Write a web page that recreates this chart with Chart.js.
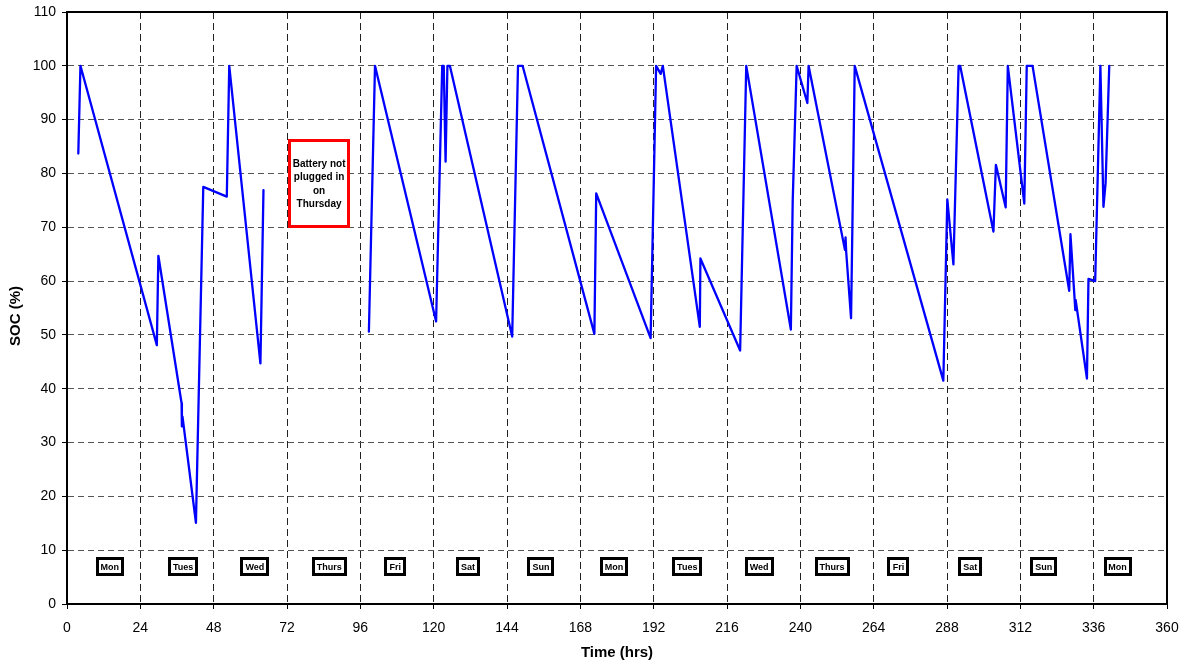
<!DOCTYPE html>
<html>
<head>
<meta charset="utf-8">
<script src="https://cdn.jsdelivr.net/npm/chart.js@4"></script>
<style>
  html, body { margin: 0; padding: 0; background: #fff; }
  #wrap { width: 1187px; height: 664px; }
</style>
</head>
<body>
<div id="wrap"><canvas id="c" width="1187" height="664"></canvas></div>
<script>
// ---- data ----
const hours = [
  3.7, 4.4, 29.4, 29.9, 37.5, 37.6, 37.8, 42.2, 44.6, 52.3, 53.1, 63.3, 64.3,
  80,
  98.8, 100.8, 120.8, 122.8, 123.3, 123.9, 124.5, 125.3, 145.7, 147.6, 149.1,
  172.6, 173.2, 191.0, 192.8, 194.3, 195.0, 207.1, 207.3, 220.3, 222.3, 236.9,
  237.5, 238.8, 242.3, 242.7, 254.6, 254.8, 255.0, 256.6, 257.8, 286.8, 288.1,
  290.1, 291.8, 292.3, 303.2, 304.0, 307.2, 307.9, 313.3, 314.1, 316.0, 328.0,
  328.4, 330.0, 330.1, 333.8, 334.3, 336.5, 338.2, 339.2, 339.9, 340.4, 341.1
];
const soc = [
  83.7, 100, 48.1, 64.7, 37.3, 33.0, 34.8, 15.1, 77.5, 75.7, 100, 44.7, 76.9,
  null,
  50.6, 100, 52.5, 100, 100, 82.2, 100, 100, 49.7, 100, 100,
  50.2, 76.3, 49.4, 100, 98.5, 100, 51.5, 64.2, 47.1, 100, 51.0,
  74.8, 100, 93.1, 100, 65.8, 68.1, 65.5, 53.1, 100, 41.5, 75.2,
  63.1, 100, 100, 69.2, 81.6, 73.7, 100, 74.4, 100, 100, 58.2,
  68.7, 54.6, 56.5, 41.9, 60.4, 60.0, 100, 73.8, 78.2, 87.1, 100
];
const dayNames = ['Mon','Tues','Wed','Thurs','Fri','Sat','Sun','Mon','Tues','Wed','Thurs','Fri','Sat','Sun','Mon'];
const dayHours = [14, 38, 61.5, 85.8, 107.4, 131.2, 155.1, 179, 203, 226.5, 250.4, 272.1, 295.6, 319.7, 343.8];
const dayLabelSoc = 6.9;
const xTicks = [0, 24, 48, 72, 96, 120, 144, 168, 192, 216, 240, 264, 288, 312, 336, 360];
const yTicks = [0, 10, 20, 30, 40, 50, 60, 70, 80, 90, 100, 110];
const noteLines = ['Battery not', 'plugged in', 'on', 'Thursday'];
const noteAt = { x: 82.5, y: 78.1 };

const FONT = '"Liberation Sans", Arial, Helvetica, sans-serif';

const points = hours.map((h, i) => ({ x: h, y: soc[i] }));

const decor = {
  id: 'decor',
  afterDraw(chart) {
    const ctx = chart.ctx;
    const xs = chart.scales.x, ys = chart.scales.y;
    const a = chart.chartArea;
    ctx.save();
    // frame
    ctx.strokeStyle = '#000';
    ctx.lineWidth = 2;
    ctx.setLineDash([]);
    ctx.strokeRect(a.left, a.top, a.right - a.left, a.bottom - a.top);

    // day labels
    ctx.font = 'bold 9px ' + FONT;
    ctx.textAlign = 'center';
    ctx.textBaseline = 'middle';
    const cy = ys.getPixelForValue(dayLabelSoc);
    dayNames.forEach((d, i) => {
      const cx = xs.getPixelForValue(dayHours[i]);
      const w = Math.round(ctx.measureText(d).width) + 10;
      const h = 19;
      const x0 = Math.round(cx - w / 2), y0 = Math.round(cy - h / 2);
      ctx.fillStyle = '#fff';
      ctx.fillRect(x0, y0, w, h);
      ctx.lineWidth = 3;
      ctx.strokeStyle = '#000';
      ctx.strokeRect(x0 + 1.5, y0 + 1.5, w - 3, h - 3);
      ctx.fillStyle = '#000';
      ctx.fillText(d, cx, cy + 0.5);
    });

    // note box
    const nx = xs.getPixelForValue(noteAt.x), ny = ys.getPixelForValue(noteAt.y);
    const bw = 62, bh = 89;
    const bx = Math.round(nx - bw / 2), by = Math.round(ny - bh / 2);
    ctx.fillStyle = '#fff';
    ctx.fillRect(bx, by, bw, bh);
    ctx.strokeStyle = '#ff0000';
    ctx.lineWidth = 3;
    ctx.strokeRect(bx + 1.5, by + 1.5, bw - 3, bh - 3);
    ctx.fillStyle = '#000';
    ctx.font = 'bold 10px ' + FONT;
    const lh = 13.3;
    noteLines.forEach((t, i) => {
      ctx.fillText(t, nx, ny + (i - (noteLines.length - 1) / 2) * lh + 0.5);
    });

    // axis titles
    ctx.font = 'bold 15px ' + FONT;
    ctx.fillStyle = '#000';
    ctx.textAlign = 'center';
    ctx.textBaseline = 'middle';
    ctx.fillText('Time (hrs)', (a.left + a.right) / 2, 653);
    ctx.save();
    ctx.translate(16, 316);
    ctx.rotate(-Math.PI / 2);
    ctx.fillText('SOC (%)', 0, 0);
    ctx.restore();
    ctx.restore();
  }
};

new Chart(document.getElementById('c'), {
  type: 'line',
  data: {
    datasets: [{
      data: points,
      borderColor: '#0000ff',
      borderWidth: 2.3,
      borderJoinStyle: 'round',
      borderCapStyle: 'round',
      pointRadius: 0,
      tension: 0,
      spanGaps: false,
      fill: false
    }]
  },
  options: {
    responsive: false,
    animation: false,
    devicePixelRatio: 1,
    layout: { autoPadding: false, padding: { left: 0, top: 12, right: 20, bottom: 0 } },
    plugins: { legend: { display: false }, tooltip: { enabled: false } },
    scales: {
      x: {
        type: 'linear',
        min: 0, max: 360,
        afterBuildTicks: (s) => { s.ticks = xTicks.map(v => ({ value: v })); },
        afterFit: (s) => { s.height = 60; s.paddingLeft = 0; s.paddingRight = 0; s.paddingTop = 0; s.paddingBottom = 0; },
        ticks: { color: '#000', font: { family: FONT, size: 14 }, padding: 11, maxRotation: 0, autoSkip: false },
        grid: { color: '#222', lineWidth: 1, tickColor: '#000', tickLength: 5, drawTicks: true },
        border: { display: true, color: '#000', width: 2, dash: [7, 4] }
      },
      y: {
        type: 'linear',
        min: 0, max: 110,
        afterBuildTicks: (s) => { s.ticks = yTicks.map(v => ({ value: v })); },
        afterFit: (s) => { s.width = 67; s.paddingTop = 0; s.paddingBottom = 0; s.paddingLeft = 0; s.paddingRight = 0; },
        ticks: { color: '#000', font: { family: FONT, size: 14 }, padding: 6, autoSkip: false },
        grid: { color: '#555', lineWidth: 1, tickColor: '#000', tickLength: 5, drawTicks: true },
        border: { display: true, color: '#000', width: 2, dash: [6, 4] }
      }
    }
  },
  plugins: [decor]
});
</script>
</body>
</html>
